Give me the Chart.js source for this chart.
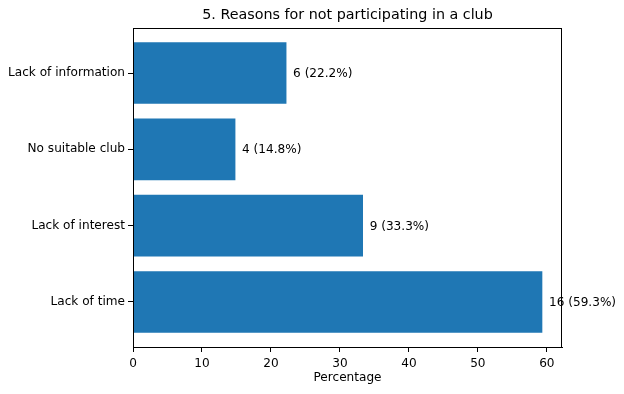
<!DOCTYPE html>
<html>
<head>
<meta charset="utf-8">
<script src="https://cdn.jsdelivr.net/npm/chart.js@4"></script>
<style>
html,body{margin:0;padding:0;background:#fff;}
#wrap{width:624px;height:394px;position:relative;}
</style>
</head>
<body>
<div id="wrap"><canvas id="c"></canvas></div>
<script>
const categories = ['Lack of time', 'Lack of interest', 'No suitable club', 'Lack of information'];
const counts = [16, 9, 4, 6];
const percentages = [59.3, 33.3, 14.8, 22.2];
const xTicks = [0, 10, 20, 30, 40, 50, 60];
const titleText = '5. Reasons for not participating in a club';
const xTitle = 'Percentage';

const FONT = "'DejaVu Sans', sans-serif";
const FS = 12.1;

const labelPlugin = {
  id: 'extras',
  afterDraw(chart) {
    const ctx = chart.ctx;
    const a = chart.chartArea;
    const xs = chart.scales.x, ys = chart.scales.y;
    ctx.save();
    ctx.strokeStyle = '#000';
    ctx.lineWidth = 1;
    ctx.strokeRect(Math.round(a.left) + 0.5, Math.round(a.top) + 0.5, Math.round(a.right - a.left) - 1, Math.round(a.bottom - a.top));
    ctx.fillStyle = '#000';
    ctx.font = FS + 'px ' + FONT;
    ctx.textAlign = 'left';
    ctx.textBaseline = 'middle';
    percentages.forEach((p, i) => {
      ctx.fillText(counts[i] + ' (' + p.toFixed(1) + '%)', xs.getPixelForValue(p) + 7, ys.getPixelForValue(i) + 1);
    });
    ctx.textAlign = 'center';
    ctx.font = '14.3px ' + FONT;
    ctx.fillText(titleText, (a.left + a.right) / 2, 15.5);
    ctx.font = FS + 'px ' + FONT;
    ctx.fillText(xTitle, (a.left + a.right) / 2, 378);
    ctx.restore();
  }
};

new Chart(document.getElementById('c'), {
  type: 'bar',
  data: {
    datasets: [{
      data: percentages.map((p, i) => ({ x: p, y: i })),
      backgroundColor: '#1f77b4',
      borderWidth: 0,
      barThickness: 61
    }]
  },
  options: {
    indexAxis: 'y',
    responsive: true,
    maintainAspectRatio: false,
    animation: false,
    events: [],
    layout: { padding: { left: 0, right: 62, top: 28, bottom: 0 } },
    plugins: { legend: { display: false }, tooltip: { enabled: false }, title: { display: false } },
    scales: {
      x: {
        type: 'linear',
        min: 0,
        max: 62.2,
        afterBuildTicks: (axis) => { axis.ticks = xTicks.map(v => ({ value: v })); },
        afterFit: (axis) => { axis.height = 47; },
        grid: { drawOnChartArea: false, drawTicks: true, tickLength: 5, color: '#000', tickWidth: 1 },
        border: { display: true, color: '#000', width: 1 },
        ticks: { color: '#000', font: { family: FONT, size: FS }, padding: 5, maxRotation: 0 }
      },
      y: {
        type: 'linear',
        offset: false,
        min: -0.59,
        max: 3.59,
        afterBuildTicks: (axis) => { axis.ticks = categories.map((c, i) => ({ value: i })); },
        afterFit: (axis) => { axis.width = 133; },
        grid: { offset: false, drawOnChartArea: false, drawTicks: true, tickLength: 5, color: '#000', tickWidth: 1 },
        border: { display: true, color: '#000', width: 1 },
        ticks: { color: '#000', font: { family: FONT, size: FS }, padding: 3, callback: (v) => categories[v] }
      }
    }
  },
  plugins: [labelPlugin]
});
</script>
</body>
</html>
